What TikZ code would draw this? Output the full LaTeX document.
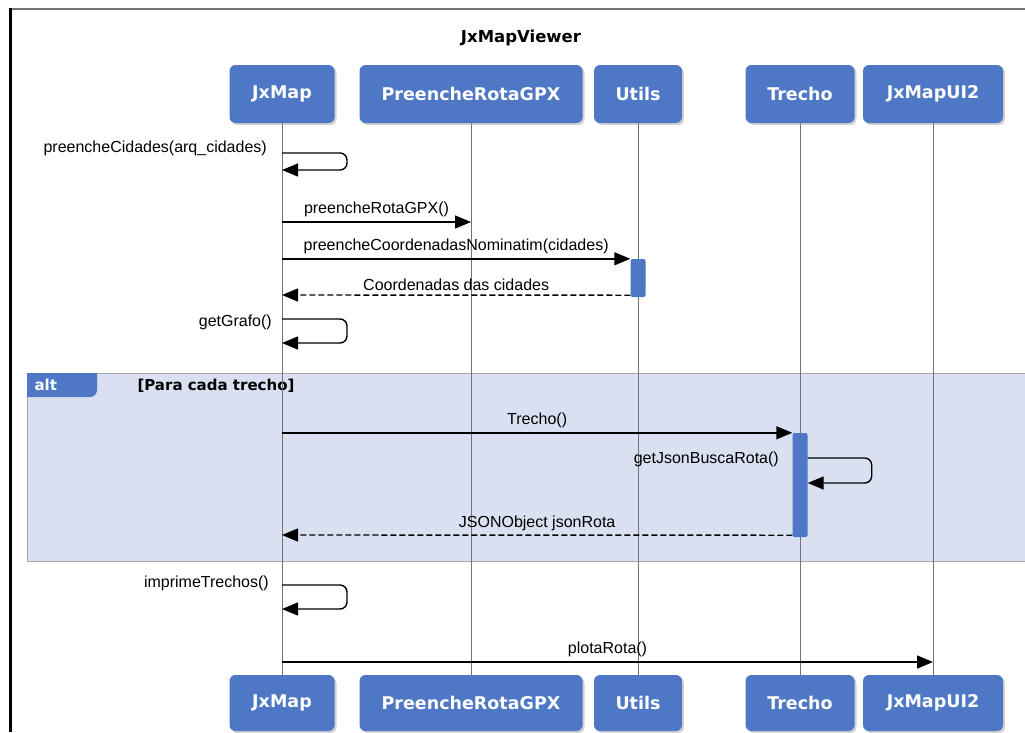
\documentclass[tikz,border=0pt]{standalone}
\usepackage{fontspec}
\setmainfont{DejaVu Sans}
\newfontfamily\msgfont{Liberation Sans}
\usetikzlibrary{positioning}
\usetikzlibrary{arrows.meta}
\usetikzlibrary{shadows}
\definecolor{boxblue}{HTML}{4E78C6}
\definecolor{altfill}{HTML}{D8E0F1}

\begin{document}
\begin{tikzpicture}[x=1pt, y=-1pt,
  objnode/.style={rectangle, rounded corners=6pt, fill=boxblue, text=white, font=\fontsize{17.5}{20}\selectfont\bfseries, minimum height=58pt, drop shadow={opacity=0.35, shadow xshift=2pt, shadow yshift=-2pt}},
  lifeline/.style={draw=black!55, line width=1pt},
  msg/.style={line width=1.4pt, -{Triangle[length=16pt,width=13pt]}},
  ret/.style={msg, dash pattern=on 6pt off 3pt},
  loopmsg/.style={msg, rounded corners=7pt},
  lbl/.style={font=\msgfont\fontsize{16}{18}\selectfont, inner sep=1pt},
  actbar/.style={rectangle, rounded corners=2pt, fill=boxblue, minimum width=15pt, inner sep=0pt}]
  \useasboundingbox (0,0) rectangle (1025,732);
  \fill[white] (0,0) rectangle (1025,732);
  \draw[black!55, line width=1.5pt] (10,9) -- (1025,9);
  \draw[black, line width=3pt] (10,8) -- (10,732);
  \node[font=\fontsize{16.5}{19}\selectfont\bfseries] (title) at (521,38) {JxMapViewer};

  % alt fragment
  \draw[fill=altfill, draw=black!35, line width=1pt] (27,373) rectangle (1030,561);
  \fill[boxblue, rounded corners=7pt] (27,373) [sharp corners] -- (97,373) [rounded corners=7pt] -- (97,397) [sharp corners] -- (27,397) -- cycle;
  \node[text=white, font=\fontsize{15}{17}\selectfont\bfseries, anchor=west] (alttag) at (31,385) {alt};
  \node[font=\fontsize{15}{17}\selectfont\bfseries, anchor=west] (guard) at (134,386) {[Para cada trecho]};

  % participants
  \node[objnode, minimum width=105pt] (jxmap) at (282,94) {JxMap};
  \node[objnode, minimum width=223pt] (prg) at (471,94) {PreencheRotaGPX};
  \node[objnode, minimum width=88pt] (utils) at (638,94) {Utils};
  \node[objnode, minimum width=109pt] (trecho) at (800,94) {Trecho};
  \node[objnode, minimum width=140pt] (ui) at (933,94) {JxMapUI2};
  \node[objnode, minimum width=105pt, minimum height=56pt] (jxmapbot) at (282,703) {JxMap};
  \node[objnode, minimum width=223pt, minimum height=56pt] (prgbot) at (471,703) {PreencheRotaGPX};
  \node[objnode, minimum width=88pt, minimum height=56pt] (utilsbot) at (638,703) {Utils};
  \node[objnode, minimum width=109pt, minimum height=56pt] (trechobot) at (800,703) {Trecho};
  \node[objnode, minimum width=140pt, minimum height=56pt] (uibot) at (933,703) {JxMapUI2};
  \foreach \t/\b in {jxmap/jxmapbot, prg/prgbot, utils/utilsbot, trecho/trechobot, ui/uibot}
    \draw[lifeline] (\t.south) -- (\b.north);

  \node[actbar, minimum height=38pt] (utilsact) at (638,278) {};
  \node[actbar, minimum height=104pt] (trechoact) at (800,485) {};

  % messages
  \draw[loopmsg] (jxmap |- 0,153) -- ++(65,0) -- ++(0,17) -- (jxmap |- 0,170);
  \node[lbl, anchor=east] (lcid) at (268,148) {preencheCidades(arq\_cidades)};
  \draw[msg] (jxmap |- 0,222) -- (prg |- 0,222) node[lbl, midway, above=3pt] (lrota) {preencheRotaGPX()};
  \draw[msg] (jxmap |- utilsact.north) -- (utilsact.north west) node[lbl, midway, above=3pt] (lnomi) {preencheCoordenadasNominatim(cidades)};
  \draw[ret] ([yshift=2pt]utilsact.south west) -- (jxmap |- 0,295) node[lbl, midway, above=3pt] (lcoord) {Coordenadas das cidades};
  \draw[loopmsg] (jxmap |- 0,319) -- ++(65,0) -- ++(0,24) -- (jxmap |- 0,343);
  \node[lbl, anchor=east] (lgrafo) at (273,322) {getGrafo()};
  \draw[msg] (jxmap |- trechoact.north) -- (trechoact.north west) node[lbl, midway, above=3pt] (ltrecho) {Trecho()};
  \draw[loopmsg] (trechoact.east |- 0,458) -- ++(64,0) -- ++(0,25) -- (trechoact.east |- 0,483);
  \node[lbl, anchor=east] (ljson) at (780,459) {getJsonBuscaRota()};
  \draw[ret] ([yshift=2pt]trechoact.south west) -- (jxmap |- 0,535) node[lbl, midway, above=3pt] (lobj) {JSONObject jsonRota};
  \draw[loopmsg] (jxmap |- 0,585) -- ++(65,0) -- ++(0,24) -- (jxmap |- 0,609);
  \node[lbl, anchor=east] (limp) at (270,583) {imprimeTrechos()};
  \draw[msg] (jxmap |- 0,662) -- (ui |- 0,662) node[lbl, midway, above=3pt] (lplot) {plotaRota()};
\end{tikzpicture}
\end{document}
